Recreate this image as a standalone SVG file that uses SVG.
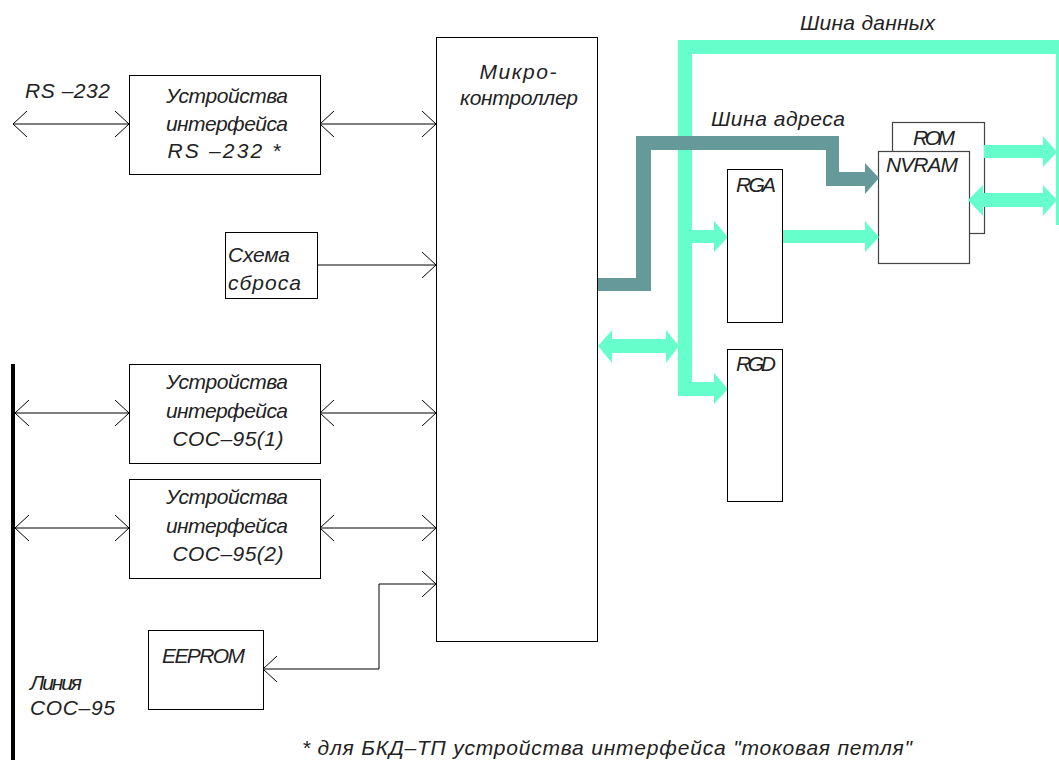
<svg xmlns="http://www.w3.org/2000/svg" width="1059" height="760" viewBox="0 0 1059 760">
<style>
.box{fill:#fff;stroke:#000;stroke-width:1}
.box2{fill:#fff;stroke:#444;stroke-width:1.2}
.t{font-family:"Liberation Sans",Arial,sans-serif;font-style:italic;font-size:21px;fill:#222}
.c{text-anchor:middle}
.ln{fill:none;stroke:#000;stroke-width:1}
.data{fill:#66FFCC}
.addr{fill:#669999}
</style>
<defs>
<marker id="ah" viewBox="-15 -14 16 28" refX="0" refY="0" markerWidth="16" markerHeight="28" markerUnits="userSpaceOnUse" orient="auto-start-reverse">
<path d="M-14,-13 L0,0 L-14,13" fill="none" stroke="#000" stroke-width="1"/>
</marker>
</defs>

<rect x="0" y="0" width="1059" height="760" fill="#fff"/>

<g id="rom">
<rect class="box2" x="892.5" y="122.5" width="92" height="111"/>
<text class="t" x="913" y="145" textLength="42">ROM</text>
</g>

<g id="nvram">
<rect class="box2" x="878.5" y="151.5" width="91" height="112"/>
<text class="t" x="886" y="172" textLength="72">NVRAM</text>
</g>

<g id="buses">
<g id="data-bus">
<rect class="data" x="678" y="40" width="381" height="14"/>
<rect class="data" x="678" y="40" width="14" height="356"/>
<rect class="data" x="1056" y="40" width="14" height="185"/>
<rect class="data" x="678" y="382" width="36" height="14"/>
<polygon class="data" points="714,373 728,389 714,404"/>
<rect class="data" x="692" y="230" width="22" height="13"/>
<polygon class="data" points="714,221 728,237 714,252"/>
<rect class="data" x="612" y="339" width="54" height="14"/>
<polygon class="data" points="612,330 598,346 612,363"/>
<polygon class="data" points="666,330 679,346 666,363"/>
<rect class="data" x="782" y="230" width="83" height="13"/>
<polygon class="data" points="865,221 879,237 865,252"/>
<rect class="data" x="984" y="145" width="59" height="13"/>
<polygon class="data" points="1043,136 1057,152 1043,167"/>
<rect class="data" x="983" y="193" width="60" height="14"/>
<polygon class="data" points="983,185 968,200 983,216"/>
<polygon class="data" points="1043,185 1057,200 1043,216"/>
</g>
<path id="addr-bus" class="addr" d="M598,278 H636 V136 H839 V172 H865 V163 L879,178 L865,194 V186 H826 V150 H651 V291 H598 Z"/>
</g>

<g id="connectors">
<rect x="11" y="364" width="4" height="396" fill="#000"/>
<line class="ln" x1="13" y1="124" x2="129" y2="124" marker-start="url(#ah)" marker-end="url(#ah)"/>
<line class="ln" x1="320" y1="124" x2="436" y2="124" marker-start="url(#ah)" marker-end="url(#ah)"/>
<line class="ln" x1="317" y1="265" x2="436" y2="265" marker-end="url(#ah)"/>
<line class="ln" x1="15" y1="413" x2="129" y2="413" marker-start="url(#ah)" marker-end="url(#ah)"/>
<line class="ln" x1="320" y1="413" x2="436" y2="413" marker-start="url(#ah)" marker-end="url(#ah)"/>
<line class="ln" x1="15" y1="528" x2="129" y2="528" marker-start="url(#ah)" marker-end="url(#ah)"/>
<line class="ln" x1="320" y1="528" x2="436" y2="528" marker-start="url(#ah)" marker-end="url(#ah)"/>
<polyline class="ln" points="263,669 379,669 379,584 436,584" marker-start="url(#ah)" marker-end="url(#ah)"/>
</g>

<g id="mc">
<rect class="box" x="436.5" y="37.5" width="161" height="604"/>
<text class="t c" x="518" y="79" textLength="77">Микро-</text>
<text class="t c" x="519" y="105" textLength="118">контроллер</text>
</g>

<g id="rs232-if">
<rect class="box" x="129.5" y="75.5" width="191" height="99"/>
<text class="t c" x="227" y="103" textLength="122">Устройства</text>
<text class="t c" x="227" y="131" textLength="122">интерфейса</text>
<text class="t c" x="224" y="158" textLength="113">RS –232 *</text>
</g>

<g id="rs232-label">
<text class="t" x="25" y="98" textLength="85">RS –232</text>
</g>

<g id="reset">
<rect class="box" x="225.5" y="232.5" width="92" height="66"/>
<text class="t" x="228" y="262" textLength="62">Схема</text>
<text class="t" x="228" y="290" textLength="73">сброса</text>
</g>

<g id="coc1">
<rect class="box" x="129.5" y="364.5" width="191" height="99"/>
<text class="t c" x="227" y="389" textLength="122">Устройства</text>
<text class="t c" x="227" y="418" textLength="122">интерфейса</text>
<text class="t c" x="228" y="446" textLength="111">СОС–95(1)</text>
</g>

<g id="coc2">
<rect class="box" x="129.5" y="479.5" width="191" height="99"/>
<text class="t c" x="227" y="504" textLength="122">Устройства</text>
<text class="t c" x="227" y="533" textLength="122">интерфейса</text>
<text class="t c" x="228" y="561" textLength="111">СОС–95(2)</text>
</g>

<g id="eeprom">
<rect class="box" x="148.5" y="630.5" width="115" height="79"/>
<text class="t" x="162" y="663" textLength="83">EEPROM</text>
</g>

<g id="line-label">
<text class="t" x="30" y="690" textLength="52">Линия</text>
<text class="t" x="30" y="715" textLength="85">СОС–95</text>
</g>

<g id="rga">
<rect class="box" x="727.5" y="169.5" width="55" height="153"/>
<text class="t" x="736" y="192" textLength="40">RGA</text>
</g>

<g id="rgd">
<rect class="box" x="727.5" y="349.5" width="55" height="152"/>
<text class="t" x="736" y="371" textLength="40">RGD</text>
</g>

<g id="bus-labels">
<text class="t" x="800" y="30" textLength="135">Шина данных</text>
<text class="t" x="711" y="126" textLength="134">Шина адреса</text>
</g>

<g id="footnote">
<text class="t" x="302" y="755" textLength="610">* для БКД–ТП устройства интерфейса "токовая петля"</text>
</g>
</svg>
